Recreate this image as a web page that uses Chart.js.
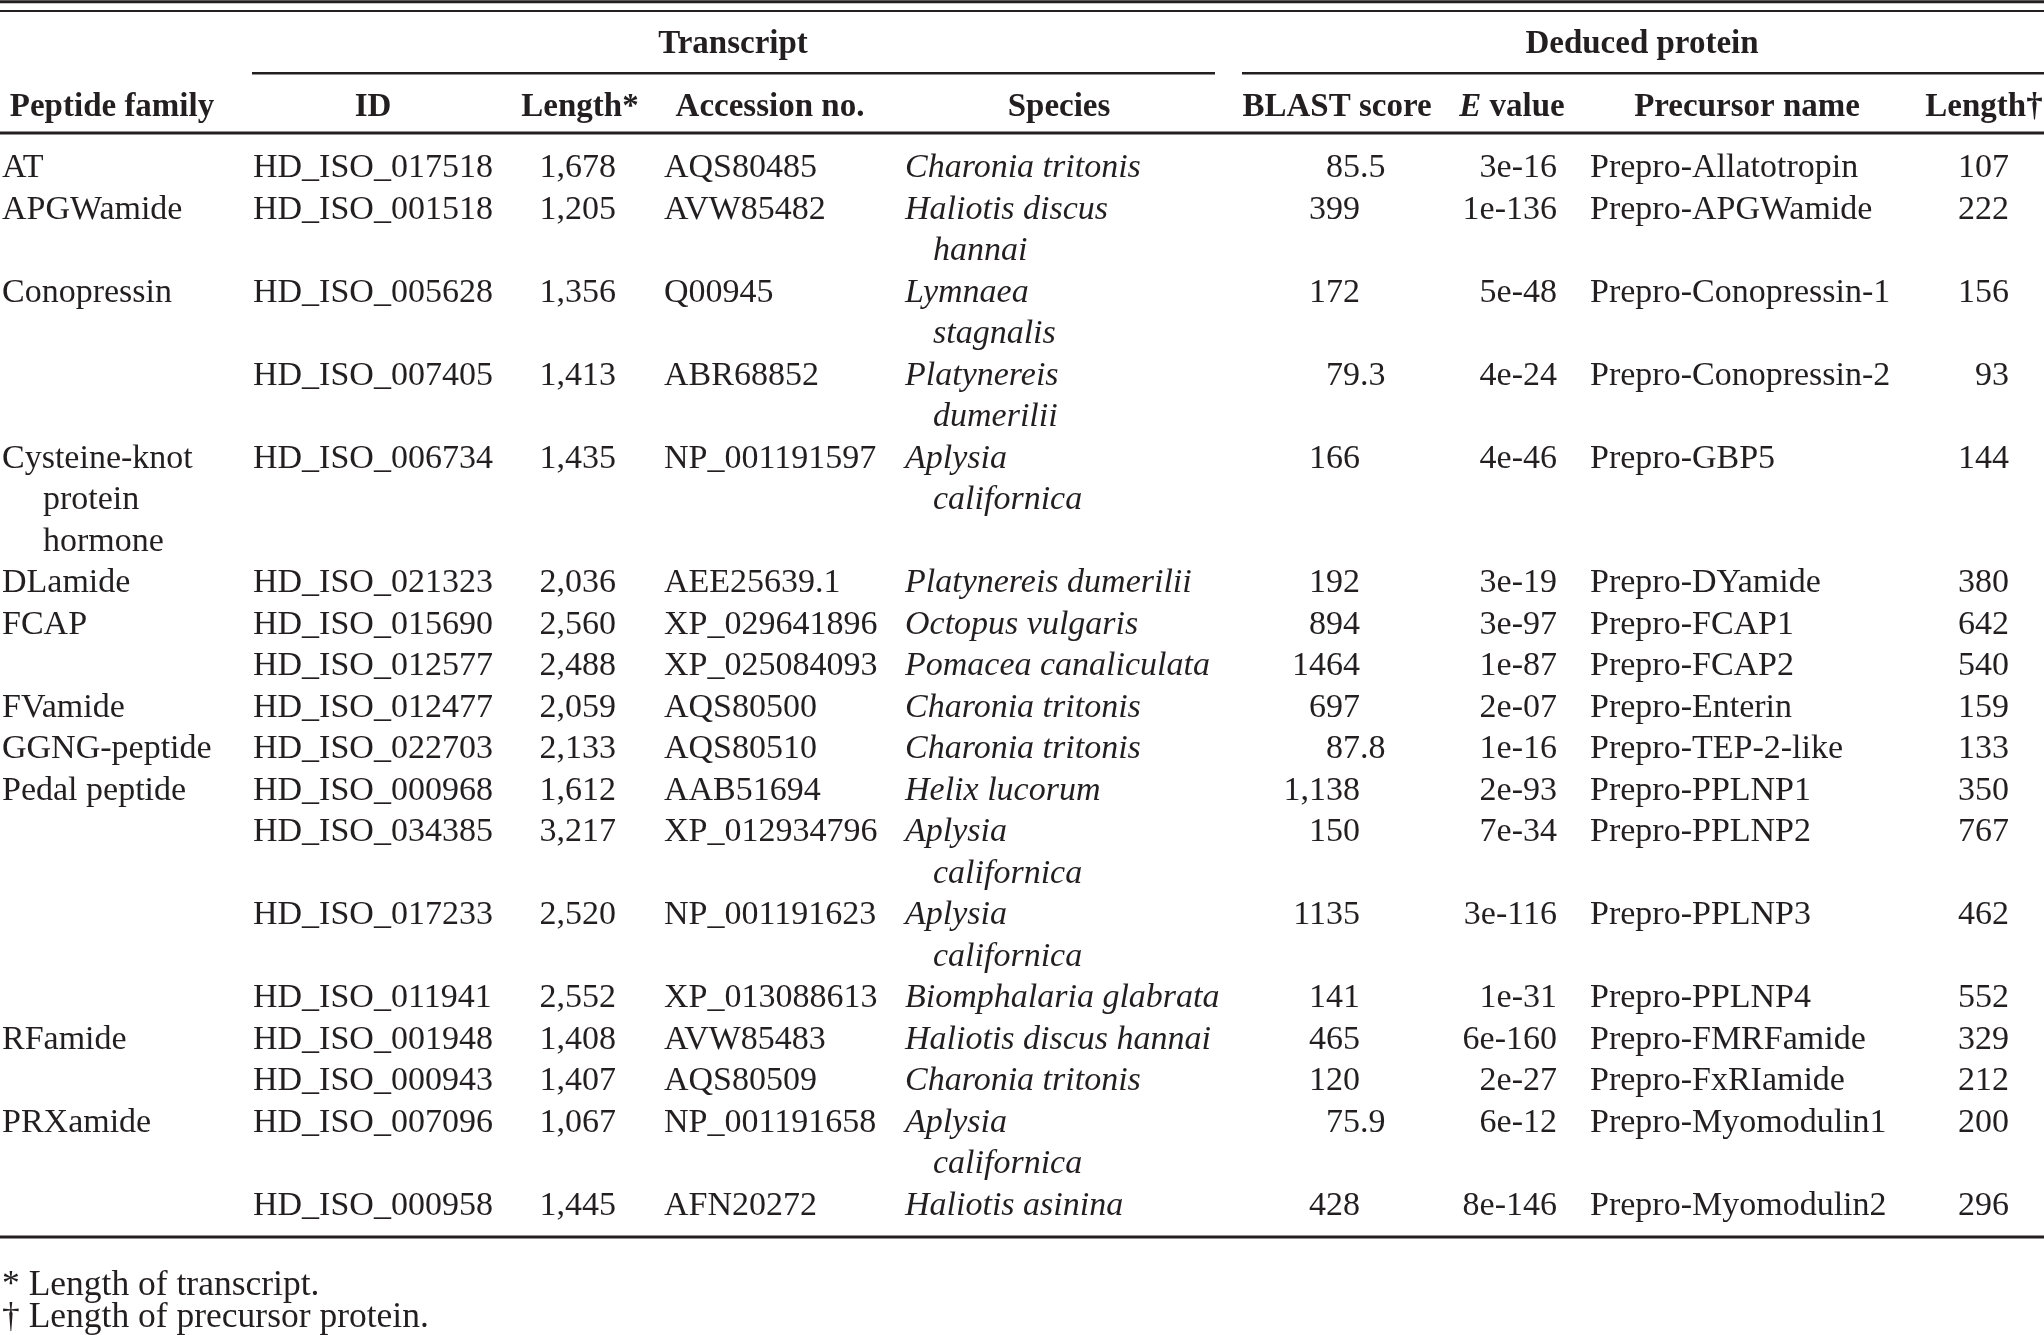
<!DOCTYPE html>
<html>
<head>
<meta charset="utf-8">
<script src="https://cdn.jsdelivr.net/npm/chart.js@4.4.1/dist/chart.umd.min.js"></script>
<style>
  html, body { margin: 0; padding: 0; background: #fff; }
  #wrap { width: 2044px; height: 1335px; }
</style>
</head>
<body>
<div id="wrap"><canvas id="tableChart" width="2044" height="1335"></canvas></div>
<script>
// table content, one array per column ("\n" = wrapped line in the original)
const families = ["AT", "APGWamide", "Conopressin", "", "Cysteine-knot\nprotein\nhormone", "DLamide", "FCAP", "",
  "FVamide", "GGNG-peptide", "Pedal peptide", "", "", "", "RFamide", "", "PRXamide", ""];
const transcriptIds = ["HD_ISO_017518", "HD_ISO_001518", "HD_ISO_005628", "HD_ISO_007405", "HD_ISO_006734",
  "HD_ISO_021323", "HD_ISO_015690", "HD_ISO_012577", "HD_ISO_012477", "HD_ISO_022703", "HD_ISO_000968",
  "HD_ISO_034385", "HD_ISO_017233", "HD_ISO_011941", "HD_ISO_001948", "HD_ISO_000943", "HD_ISO_007096", "HD_ISO_000958"];
const transcriptLengths = ["1,678", "1,205", "1,356", "1,413", "1,435", "2,036", "2,560", "2,488", "2,059",
  "2,133", "1,612", "3,217", "2,520", "2,552", "1,408", "1,407", "1,067", "1,445"];
const accessions = ["AQS80485", "AVW85482", "Q00945", "ABR68852", "NP_001191597", "AEE25639.1", "XP_029641896",
  "XP_025084093", "AQS80500", "AQS80510", "AAB51694", "XP_012934796", "NP_001191623", "XP_013088613",
  "AVW85483", "AQS80509", "NP_001191658", "AFN20272"];
const species = ["Charonia tritonis", "Haliotis discus\nhannai", "Lymnaea\nstagnalis", "Platynereis\ndumerilii",
  "Aplysia\ncalifornica", "Platynereis dumerilii", "Octopus vulgaris", "Pomacea canaliculata", "Charonia tritonis",
  "Charonia tritonis", "Helix lucorum", "Aplysia\ncalifornica", "Aplysia\ncalifornica", "Biomphalaria glabrata",
  "Haliotis discus hannai", "Charonia tritonis", "Aplysia\ncalifornica", "Haliotis asinina"];
const blastScores = ["85.5", "399", "172", "79.3", "166", "192", "894", "1464", "697", "87.8", "1,138", "150",
  "1135", "141", "465", "120", "75.9", "428"];
const eValues = ["3e-16", "1e-136", "5e-48", "4e-24", "4e-46", "3e-19", "3e-97", "1e-87", "2e-07", "1e-16",
  "2e-93", "7e-34", "3e-116", "1e-31", "6e-160", "2e-27", "6e-12", "8e-146"];
const precursorNames = ["Prepro-Allatotropin", "Prepro-APGWamide", "Prepro-Conopressin-1", "Prepro-Conopressin-2",
  "Prepro-GBP5", "Prepro-DYamide", "Prepro-FCAP1", "Prepro-FCAP2", "Prepro-Enterin", "Prepro-TEP-2-like",
  "Prepro-PPLNP1", "Prepro-PPLNP2", "Prepro-PPLNP3", "Prepro-PPLNP4", "Prepro-FMRFamide", "Prepro-FxRIamide",
  "Prepro-Myomodulin1", "Prepro-Myomodulin2"];
const proteinLengths = [107, 222, 156, 93, 144, 380, 642, 540, 159, 133, 350, 767, 462, 552, 329, 212, 200, 296];

const groupHeaders = ["Transcript", "Deduced protein"];
const columnHeaders = ["Peptide family", "ID", "Length*", "Accession no.", "Species", "BLAST score", "E value",
  "Precursor name", "Length†"];
const footnotes = ["* Length of transcript.", "† Length of precursor protein."];

// layout: x in canvas px, y in text-line units (0 = first body line)
const INK = "#231f20";
const FONT = "'Liberation Serif', 'Times New Roman', serif";
const BASE0 = 177, PITCH = 41.5;

const columns = [
  { values: families, x: 2, align: "left", indent: 41, head: 112 },
  { values: transcriptIds, x: 253, align: "left", head: 373 },
  { values: transcriptLengths, x: 616, align: "right", head: 580 },
  { values: accessions, x: 664, align: "left", head: 770 },
  { values: species, x: 905, align: "left", indent: 28, italic: true, head: 1059 },
  { values: blastScores, x: 1360, align: "decimal", head: 1337 },
  { values: eValues, x: 1557, align: "right", head: 1512, headItalicLead: 1 },
  { values: precursorNames, x: 1590, align: "left", head: 1747 },
  { values: proteinLengths, x: 2009, align: "right", head: 1984 }
];
const groups = [
  { center: 733, from: 252, to: 1215 },
  { center: 1642, from: 1242, to: 2044 }
];
const groupLine = -3.0, headerLine = -1.48;
const rules = [
  { y: -4.22, from: 0, to: 2044, w: 3 },
  { y: -4.0, from: 0, to: 2044, w: 2 },
  { y: -2.5, from: groups[0].from, to: groups[0].to, w: 2.5 },
  { y: -2.5, from: groups[1].from, to: groups[1].to, w: 2.5 },
  { y: -1.06, from: 0, to: 2044, w: 3 },
  { y: 25.54, from: 0, to: 2044, w: 3 }
];
const footLines = [26.93, 27.7];

// wrapped line count and first line of every table row
const rowStarts = [];
let line = 0;
for (let r = 0; r < transcriptIds.length; r++) {
  rowStarts.push(line);
  const n = Math.max(...columns.map(c => String(c.values[r]).split("\n").length));
  line += n;
}

const datasets = [];
rules.forEach(r => {
  datasets.push({
    type: "line",
    data: [{ x: r.from, y: r.y }, { x: r.to, y: r.y }],
    borderColor: INK,
    borderWidth: r.w,
    borderCapStyle: "butt",
    pointRadius: 0,
    clip: false
  });
});

columns.forEach(c => {
  const pts = [], texts = [];
  c.values.forEach((v, r) => {
    String(v).split("\n").forEach((part, k) => {
      if (!part) return;
      pts.push({ x: c.x + (k > 0 ? (c.indent || 0) : 0), y: rowStarts[r] + k });
      texts.push(part);
    });
  });
  datasets.push({
    type: "scatter", data: pts, texts: texts, pointRadius: 0,
    textAlign: c.align, fontStyle: c.italic ? "italic " : "", fontSize: 34
  });
});

datasets.push({
  type: "scatter", pointRadius: 0, textAlign: "center", fontStyle: "bold ", fontSize: 33,
  data: groups.map(g => ({ x: g.center, y: groupLine })), texts: groupHeaders
});
datasets.push({
  type: "scatter", pointRadius: 0, textAlign: "center", fontStyle: "bold ", fontSize: 33,
  data: columns.map(c => ({ x: c.head, y: headerLine })), texts: columnHeaders,
  italicLead: columns.map(c => c.headItalicLead || 0)
});
datasets.push({
  type: "scatter", pointRadius: 0, textAlign: "left", fontStyle: "", fontSize: 35.5,
  data: footLines.map(y => ({ x: 2, y: y })), texts: footnotes
});

const tableText = {
  id: "tableText",
  afterDatasetsDraw(chart) {
    const ctx = chart.ctx;
    ctx.save();
    ctx.fillStyle = INK;
    ctx.textBaseline = "alphabetic";
    chart.data.datasets.forEach((ds, i) => {
      if (!ds.texts) return;
      const meta = chart.getDatasetMeta(i);
      const font = ds.fontStyle + ds.fontSize + "px " + FONT;
      meta.data.forEach((pt, j) => {
        const t = String(ds.texts[j]);
        ctx.font = font;
        const lead = ds.italicLead ? ds.italicLead[j] : 0;
        if (lead) {
          const italicFont = "italic " + font;
          const a = t.slice(0, lead), b = t.slice(lead);
          ctx.font = italicFont;
          const wa = ctx.measureText(a).width;
          ctx.font = font;
          const wb = ctx.measureText(b).width;
          let x0 = pt.x - (wa + wb) / 2;
          ctx.textAlign = "left";
          ctx.font = italicFont;
          ctx.fillText(a, x0, pt.y);
          ctx.font = font;
          ctx.fillText(b, x0 + wa, pt.y);
          return;
        }
        if (ds.textAlign === "decimal") {
          const dot = t.indexOf(".");
          const intPart = dot < 0 ? t : t.slice(0, dot);
          ctx.textAlign = "right";
          ctx.fillText(intPart, pt.x, pt.y);
          if (dot >= 0) {
            ctx.textAlign = "left";
            ctx.fillText(t.slice(dot), pt.x, pt.y);
          }
          return;
        }
        ctx.textAlign = ds.textAlign;
        ctx.fillText(t, pt.x, pt.y);
      });
    });
    ctx.restore();
  }
};

new Chart(document.getElementById("tableChart"), {
  data: { datasets: datasets },
  options: {
    responsive: false,
    animation: false,
    events: [],
    layout: { padding: 0 },
    plugins: { legend: { display: false }, tooltip: { enabled: false } },
    scales: {
      x: { type: "linear", display: false, min: 0, max: 2044 },
      y: { type: "linear", display: false, reverse: true, min: -BASE0 / PITCH, max: (1335 - BASE0) / PITCH }
    }
  },
  plugins: [tableText]
});
</script>
</body>
</html>
